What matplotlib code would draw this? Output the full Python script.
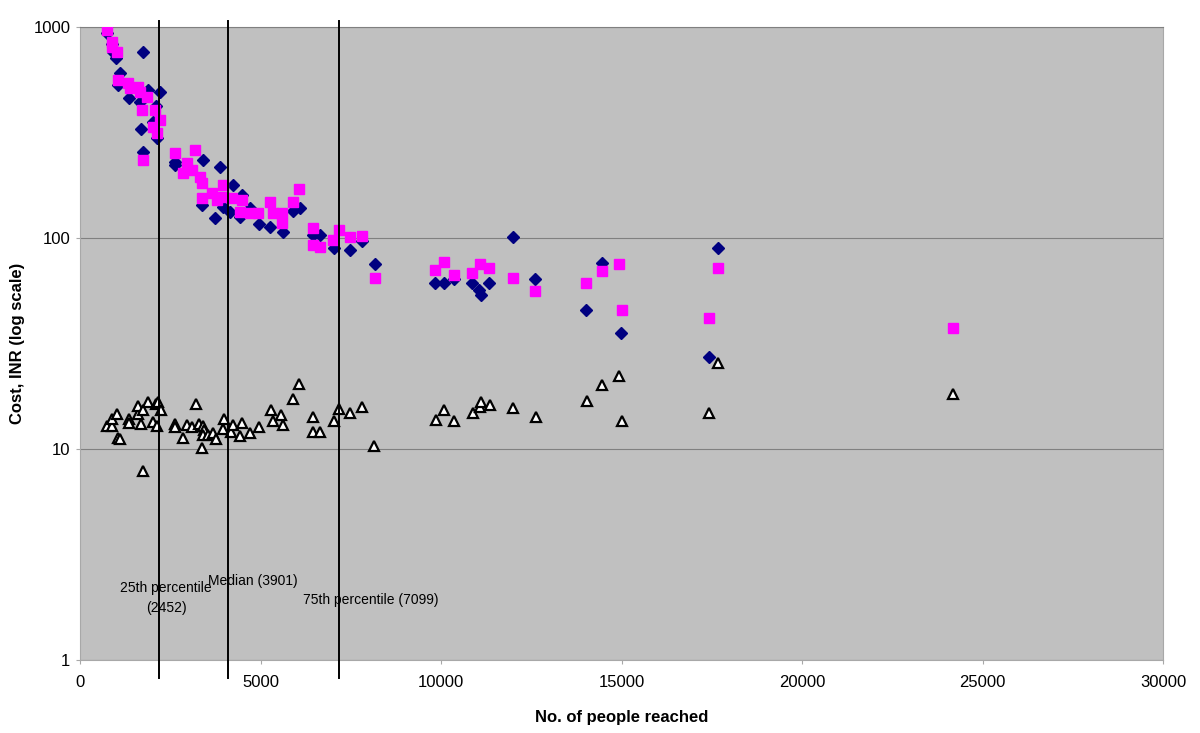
import numpy as np
import matplotlib
matplotlib.use("Agg")
import matplotlib.pyplot as plt
import matplotlib.transforms as mtransforms
from matplotlib.ticker import FixedLocator, NullLocator, FuncFormatter

# series 1: navy diamonds
reach_a = [748, 886, 914, 997, 1108, 1053, 1357, 1884, 2216, 2105, 1662, 1690, 2022, 2133,
           1745, 1745, 2632, 2632, 3407, 3878, 4238, 4487, 3379, 3740, 3961, 4155, 4709,
           4432, 4958, 5263, 5623, 5900, 6094, 6454, 6648, 7036, 7479, 7811, 8172, 9834,
           10083, 10360, 10858, 11052, 11108, 11329, 11994, 12604, 14016, 14459, 14986,
           17423, 17673]
cost_a = [940, 830, 762, 713, 605, 531, 461, 503, 492, 422, 441, 329, 355, 298,
          256, 762, 229, 222, 234, 217, 178, 160, 143, 124, 140, 133, 139,
          126, 116, 113, 107, 134, 139, 103, 103, 90, 88, 97, 75, 61,
          61, 64, 61, 57, 54, 61, 101, 64, 45.6, 76, 35.5,
          27.3, 90]

# series 2: magenta squares
reach_b = [748, 886, 886, 1025, 1053, 1330, 1385, 1607, 1662, 1856, 1717, 2078, 2216, 2022,
           2133, 1745, 2632, 3186, 2964, 2853, 3102, 3324, 3379, 3379, 3656, 3795, 3961,
           3961, 4210, 4487, 4432, 4709, 4931, 5263, 5346, 5595, 5595, 5900, 6066, 6454,
           6454, 6648, 7008, 7174, 7479, 7811, 8172, 9834, 10083, 10360, 10858, 11080,
           11329, 11994, 12604, 14016, 14459, 14930, 15013, 17423, 17673, 24182]
cost_b = [968, 849, 804, 762, 561, 543, 514, 520, 492, 466, 404, 404, 362, 336,
          315, 234, 253, 261, 227, 203, 210, 195, 182, 155, 163, 151, 178,
          156, 155, 151, 133, 131, 131, 148, 131, 131, 118, 148, 171, 112,
          93, 91, 98, 109, 101, 102, 65, 70.5, 77, 67, 68, 75,
          72, 65, 56, 61, 70, 75, 45.6, 42, 72, 37.5]

# series 3: open triangles
reach_c = [748, 886, 886, 1025, 1053, 1108, 1357, 1357, 1607, 1607, 1745, 1884, 1690, 2022,
           2133, 2105, 2161, 2244, 1745, 2632, 2632, 2853, 2964, 3102, 3213, 3296, 3407,
           3435, 3407, 3379, 3546, 3684, 3767, 3961, 3989, 4183, 4238, 4487, 4432, 4709,
           4958, 5291, 5346, 5568, 5623, 5900, 6066, 6454, 6454, 6648, 7036, 7174, 7479,
           7811, 8144, 9861, 10083, 10360, 10886, 11080, 11108, 11357, 11994, 12631,
           14044, 14459, 14930, 15013, 17423, 17673, 24182]
cost_c = [12.9, 12.9, 13.9, 14.7, 11.3, 11.1, 13.9, 13.3, 14.7, 16.0, 15.3, 16.7, 13.1, 13.4,
          12.9, 16.3, 16.7, 15.3, 7.9, 13.1, 12.7, 11.3, 13.0, 12.7, 16.3, 13.1, 12.9,
          12.3, 11.6, 10.1, 11.6, 11.9, 11.1, 12.4, 13.9, 12.0, 13.0, 13.3, 11.5, 11.9,
          12.7, 15.3, 13.6, 14.5, 13.0, 17.3, 20.3, 14.2, 12.0, 12.0, 13.6, 15.5, 14.8,
          15.8, 10.3, 13.7, 15.3, 13.6, 14.8, 15.8, 16.7, 16.2, 15.6, 14.2,
          16.9, 20.1, 22.2, 13.6, 14.8, 25.6, 18.2]

# percentile lines (as drawn) and their labels
line_x = [2190, 4085, 7175]
labels = ["25th percentile\n(2452)", "Median (3901)", "75th percentile (7099)"]
label_x = [2382, 4792, 8061]
label_y = [1.97, 2.37, 1.92]

fig = plt.figure(figsize=(12, 7.33), dpi=100)
ax = fig.add_axes([0.0667, 0.0996, 0.9025, 0.8634])
ax.set_facecolor("#C0C0C0")

ax.plot(reach_a, cost_a, linestyle="none", marker="D", markersize=6,
        color="#000080", zorder=3)
ax.plot(reach_b, cost_b, linestyle="none", marker="s", markersize=7,
        color="#FF00FF", zorder=4)
ax.plot(reach_c, cost_c, linestyle="none", marker="^", markersize=7,
        markerfacecolor="white", markeredgecolor="black", markeredgewidth=1.6, zorder=5)

# lines run a bit past the plot area, like the original
trans = mtransforms.blended_transform_factory(ax.transData, ax.transAxes)
for x in line_x:
    ax.plot([x, x], [-0.028, 1.01], color="black", linewidth=1.4,
            transform=trans, clip_on=False, zorder=6)

for x, y, t in zip(label_x, label_y, labels):
    ax.text(x, y, t, ha="center", va="center", fontsize=10,
            family="Liberation Sans", linespacing=1.5, zorder=7)

ax.set_yscale("log")
ax.set_ylim(1, 1000)
ax.set_xlim(0, 30000)
ax.yaxis.set_major_locator(FixedLocator([1, 10, 100, 1000]))
ax.yaxis.set_minor_locator(NullLocator())
ax.yaxis.set_major_formatter(FuncFormatter(lambda v, p: f"{v:g}"))
ax.set_xticks(np.arange(0, 30001, 5000))

ax.grid(axis="y", color="#808080", linewidth=0.8)
ax.set_axisbelow(True)
for s in ax.spines.values():
    s.set_color("#A8A8A8")
    s.set_linewidth(0.8)
ax.spines["top"].set_color("#808080")
ax.tick_params(direction="out", length=3, width=0.8, color="#A8A8A8", labelsize=12)
ax.tick_params(axis="x", pad=8)
ax.tick_params(axis="y", pad=4)
for lab in ax.get_xticklabels() + ax.get_yticklabels():
    lab.set_family("Liberation Sans")

ax.set_xlabel("No. of people reached", fontsize=12, fontweight="bold",
              family="Liberation Sans", labelpad=14)
ax.set_ylabel("Cost, INR (log scale)", fontsize=12, fontweight="bold",
              family="Liberation Sans", labelpad=6)

fig.savefig("out.png", dpi=100)
